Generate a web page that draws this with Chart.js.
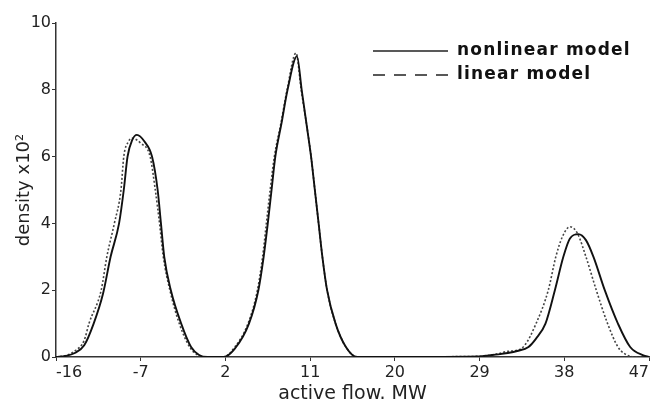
<!DOCTYPE html>
<html>
<head>
<meta charset="utf-8">
<script src="https://cdn.jsdelivr.net/npm/chart.js@4.4.1/dist/chart.umd.min.js"></script>
<style>
  html, body { margin: 0; padding: 0; background: #fff; }
  #wrap { width: 653px; height: 405px; }
</style>
</head>
<body>
<div id="wrap"><canvas id="flowChart" width="653" height="405"></canvas></div>
<script>
// x-axis ticks (MW)
const xTicks = [-16, -7, 2, 11, 20, 29, 38, 47];
const yTicks = [0, 2, 4, 6, 8, 10];

// nonlinear model (solid)
const nonlinX = [-16, -15, -14, -13, -12, -11, -10.2, -9.3, -8.8, -8.4, -7.9, -7.4, -6.6, -5.8, -5.2, -4.85, -4.5, -3.8, -2.7, -1.65, -0.8, 0.1,
  1.8, 3, 4.5, 5.5, 6.06, 6.5, 6.9, 7.3, 7.96, 8.6, 9.6, 10.1, 10.6, 11.1, 11.5, 11.9, 12.3, 12.8, 13.7, 14.8, 16,
  29, 30, 31, 32, 33, 34.2, 35, 36, 37, 37.9, 38.6, 39.5, 40.3, 41.1, 42.3, 43.7, 45, 46.4, 47];
const nonlinY = [0, 0.03, 0.12, 0.35, 1.0, 1.9, 3.0, 4.0, 5.0, 6.0, 6.5, 6.65, 6.45, 6.0, 5.0, 4.0, 3.0, 2.0, 1.0, 0.3, 0.06, 0,
  0, 0.25, 1.0, 2.0, 3.0, 4.0, 5.0, 6.0, 7.0, 8.0, 9.0, 8.0, 7.0, 6.0, 5.0, 4.0, 3.0, 2.0, 1.0, 0.3, 0,
  0.02, 0.05, 0.08, 0.12, 0.18, 0.3, 0.55, 1.0, 2.0, 3.0, 3.55, 3.68, 3.5, 3.0, 2.0, 1.0, 0.3, 0.05, 0];

// linear model (dotted)
const linX = [-16, -15, -14, -13, -12.5, -11.2, -10.6, -9.8, -9.1, -8.8, -8.3, -7.9, -7.0, -6.0, -5.45, -5.0, -4.6, -3.9, -2.9, -1.8, -0.9, 0.1,
  1.8, 3, 4.4, 5.4, 5.95, 6.35, 6.75, 7.2, 7.9, 8.55, 9.5, 10.05, 10.6, 11.1, 11.5, 11.9, 12.3, 12.8, 13.7, 14.8, 16,
  29, 30, 31, 32, 33, 33.8, 35, 36.3, 37.1, 37.8, 38.6, 39.4, 40.3, 41.4, 42.6, 43.7, 44.4, 45.5, 47];
const linY = [0, 0.04, 0.18, 0.5, 1.0, 2.0, 3.0, 4.0, 5.0, 6.0, 6.45, 6.55, 6.4, 6.0, 5.0, 4.0, 3.0, 2.0, 1.0, 0.3, 0.05, 0,
  0, 0.3, 1.0, 2.0, 3.0, 4.0, 5.0, 6.0, 7.0, 8.0, 9.1, 8.0, 7.0, 6.0, 5.0, 4.0, 3.0, 2.0, 1.0, 0.3, 0,
  0.02, 0.05, 0.1, 0.17, 0.2, 0.35, 1.0, 2.0, 3.0, 3.6, 3.9, 3.7, 3.0, 2.0, 1.0, 0.3, 0.1, 0, 0];

const legendLabels = ['nonlinear model', 'linear model'];

const FONT = '"DejaVu Sans", Arial, sans-serif';

function pairs(xs, ys) {
    return xs.map((x, i) => ({ x: x, y: ys[i] }));
}

// legend drawn inside the plot, top right
const innerLegend = {
    id: 'innerLegend',
    afterDatasetsDraw(chart) {
        const ctx = chart.ctx;
        const x0 = 373, x1 = 448, rows = [51, 75];
        ctx.save();
        ctx.strokeStyle = '#222';
        ctx.lineWidth = 1.6;
        rows.forEach((y, i) => {
            ctx.setLineDash(i === 0 ? [] : [12, 9]);
            ctx.beginPath();
            ctx.moveTo(x0, y);
            ctx.lineTo(x1, y);
            ctx.stroke();
        });
        ctx.setLineDash([]);
        ctx.fillStyle = '#111';
        ctx.font = 'bold 17px ' + FONT;
        ctx.letterSpacing = '1.2px';
        ctx.textBaseline = 'middle';
        rows.forEach((y, i) => ctx.fillText(legendLabels[i], 457, y));
        ctx.restore();
    }
};

const ctx = document.getElementById('flowChart').getContext('2d');
new Chart(ctx, {
    type: 'line',
    data: {
        datasets: [{
            label: legendLabels[0],
            data: pairs(nonlinX, nonlinY),
            borderColor: '#111',
            borderWidth: 1.9,
            pointRadius: 0,
            cubicInterpolationMode: 'monotone',
            fill: false
        }, {
            label: legendLabels[1],
            data: pairs(linX, linY),
            borderColor: '#444',
            borderWidth: 1.6,
            borderDash: [2, 2],
            pointRadius: 0,
            cubicInterpolationMode: 'monotone',
            fill: false
        }]
    },
    options: {
        responsive: false,
        animation: false,
        layout: { padding: { top: 23, right: 4, left: 14, bottom: 0 } },
        plugins: { legend: { display: false }, tooltip: { enabled: false } },
        scales: {
            x: {
                type: 'linear',
                min: -16,
                max: 47,
                afterBuildTicks: (axis) => { axis.ticks = xTicks.map(v => ({ value: v })); },
                grid: { drawOnChartArea: false, tickLength: 4, color: '#333' },
                border: { color: '#333', width: 1.5 },
                ticks: { color: '#222', font: { family: FONT, size: 16 }, padding: 2, maxRotation: 0, align: 'inner' },
                title: { display: true, text: 'active flow. MW', color: '#222', font: { family: FONT, size: 19 }, padding: 0 },
                afterFit: (axis) => { axis.height = 48; }
            },
            y: {
                min: 0,
                max: 10,
                afterBuildTicks: (axis) => { axis.ticks = yTicks.map(v => ({ value: v })); },
                grid: { drawOnChartArea: false, tickLength: 4, color: '#333' },
                border: { color: '#333', width: 1.5 },
                ticks: { color: '#222', font: { family: FONT, size: 16 }, padding: 1 },
                title: { display: true, text: 'density x10²', color: '#222', font: { family: FONT, size: 18 }, padding: 0 },
                afterFit: (axis) => { axis.width = 42; }
            }
        }
    },
    plugins: [innerLegend]
});
</script>
</body>
</html>
